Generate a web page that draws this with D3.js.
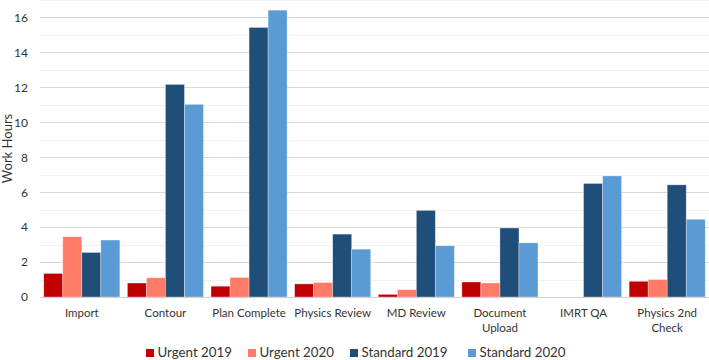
<!DOCTYPE html>
<html>
<head>
<meta charset="utf-8">
<script src="https://cdn.jsdelivr.net/npm/d3@7"></script>
<style>
  body { margin: 0; background: #fff; }
  text { font-family: Lato, "Open Sans", sans-serif; fill: #333; }
</style>
</head>
<body>
<div id="chart"></div>
<script>
// categories and their (wrapped) tick labels
var categories = ["Import", "Contour", "Plan Complete", "Physics Review", "MD Review", "Document Upload", "IMRT QA", "Physics 2nd Check"];
var categoryLines = [["Import"], ["Contour"], ["Plan Complete"], ["Physics Review"], ["MD Review"], ["Document", "Upload"], ["IMRT QA"], ["Physics 2nd", "Check"]];

// series
var seriesNames = ["Urgent 2019", "Urgent 2020", "Standard 2019", "Standard 2020"];
var urgent2019   = [1.35, 0.8, 0.62, 0.75, 0.15, 0.86, 0, 0.9];
var urgent2020   = [3.45, 1.1, 1.12, 0.83, 0.42, 0.8, 0, 1.0];
var standard2019 = [2.55, 12.17, 15.43, 3.6, 4.96, 3.95, 6.5, 6.42];
var standard2020 = [3.26, 11.03, 16.42, 2.74, 2.93, 3.1, 6.93, 4.45];
var yTicks = [0, 2, 4, 6, 8, 10, 12, 14, 16];

var colors = ["#c00000", "#ff7b67", "#1f4e79", "#5b9bd5"];
var seriesValues = [urgent2019, urgent2020, standard2019, standard2020];

var w = 709, h = 360;
var plotLeft = 40, plotRight = 709, plotTop = 0, plotBottom = 297;

var svg = d3.select("#chart").append("svg")
  .attr("width", w)
  .attr("height", h);

var x = d3.scaleBand()
  .domain(categories)
  .range([plotLeft, plotRight])
  .paddingInner(0.09)
  .paddingOuter(0.045);

var xInner = d3.scaleBand()
  .domain(seriesNames)
  .range([0, x.bandwidth()]);

var y = d3.scaleLinear()
  .domain([0, 17])
  .range([plotBottom, plotTop]);

// gridlines: minor every 1, major every 2
var gridVals = d3.range(1, 18);
svg.append("g")
  .selectAll("line")
  .data(gridVals)
  .enter()
  .append("line")
  .attr("x1", plotLeft)
  .attr("x2", plotRight)
  .attr("y1", function(d) { return Math.round(y(d)) + 0.5; })
  .attr("y2", function(d) { return Math.round(y(d)) + 0.5; })
  .attr("stroke", function(d) { return d % 2 == 0 ? "#d9d9d9" : "#f2f2f2"; })
  .attr("stroke-width", 1.2);

// y axis (labels only)
var yAxis = d3.axisLeft(y)
  .tickValues(yTicks)
  .tickSize(0)
  .tickPadding(12);

var yg = svg.append("g")
  .attr("transform", "translate(" + plotLeft + ",0)")
  .call(yAxis);
yg.select(".domain").remove();
yg.selectAll("text")
  .attr("font-size", "12px")
  .attr("font-family", "Lato, sans-serif")
  .attr("fill", "#333");

// bars
var data = [];
categories.forEach(function(c, i) {
  seriesNames.forEach(function(s, j) {
    data.push({ cat: c, series: s, value: seriesValues[j][i], color: colors[j] });
  });
});

svg.append("g")
  .selectAll("rect")
  .data(data)
  .enter()
  .append("rect")
  .attr("x", function(d) { return x(d.cat) + xInner(d.series); })
  .attr("width", xInner.bandwidth())
  .attr("y", function(d) { return y(d.value); })
  .attr("height", function(d) { return y(0) - y(d.value); })
  .attr("fill", function(d) { return d.color; })
  .attr("stroke", "rgba(255,255,255,0.55)")
  .attr("stroke-width", 0.6);

// baseline
svg.append("line")
  .attr("x1", plotLeft)
  .attr("x2", plotRight)
  .attr("y1", Math.round(y(0)) + 0.5)
  .attr("y2", Math.round(y(0)) + 0.5)
  .attr("stroke", "#d0d0d0")
  .attr("stroke-width", 1.2);

// category labels
var catG = svg.append("g")
  .selectAll("text")
  .data(categories)
  .enter()
  .append("text")
  .attr("text-anchor", "middle")
  .attr("font-size", "11.5px")
  .attr("x", function(d) { return x(d) + x.bandwidth() / 2; })
  .attr("y", 317);

catG.selectAll("tspan")
  .data(function(d, i) { return categoryLines[i]; })
  .enter()
  .append("tspan")
  .attr("x", function() { return d3.select(this.parentNode).attr("x"); })
  .attr("dy", function(d, k) { return k == 0 ? 0 : "1.3em"; })
  .text(function(d) { return d; });

// y axis title
svg.append("text")
  .attr("transform", "translate(12," + ((plotTop + plotBottom) / 2) + ") rotate(-90)")
  .attr("text-anchor", "middle")
  .attr("font-size", "13px")
  .text("Work Hours");

// legend
var legendX = [146, 248, 350, 468];
var legend = svg.append("g")
  .selectAll("g")
  .data(seriesNames)
  .enter()
  .append("g")
  .attr("transform", function(d, i) { return "translate(" + legendX[i] + ",357)"; });

legend.append("rect")
  .attr("x", 0)
  .attr("y", -8)
  .attr("width", 8)
  .attr("height", 8)
  .attr("fill", function(d, i) { return colors[i]; });

legend.append("text")
  .attr("x", 11.5)
  .attr("y", 0)
  .attr("font-size", "13.3px")
  .text(function(d) { return d; });
</script>
</body>
</html>
